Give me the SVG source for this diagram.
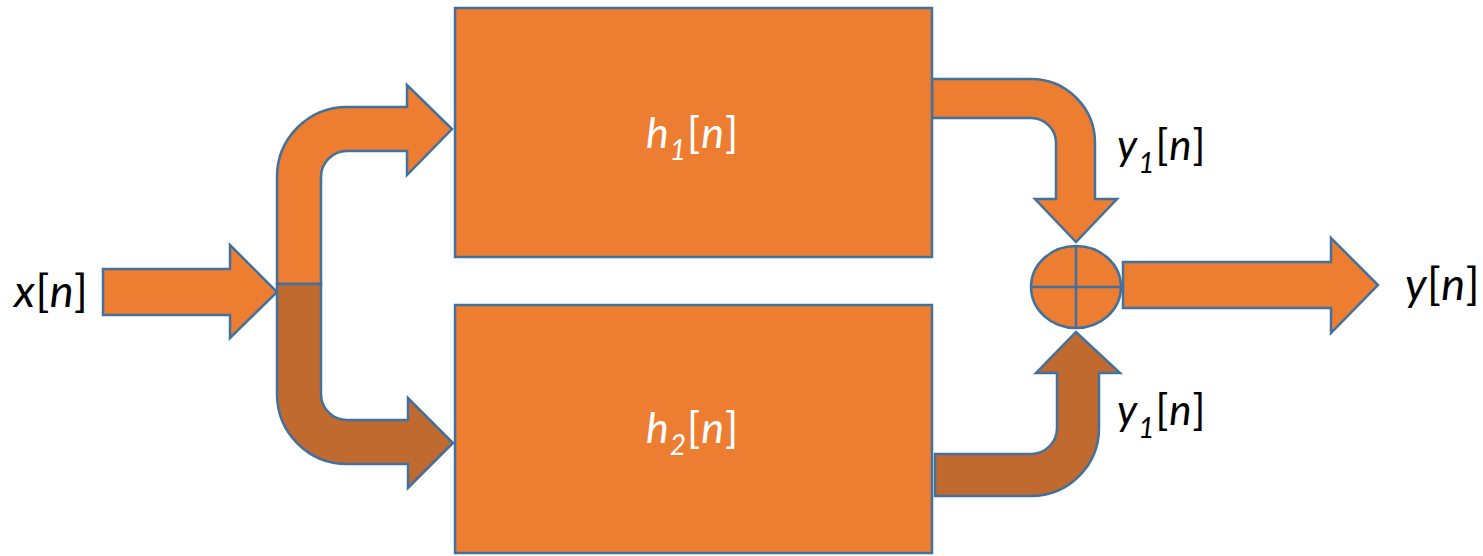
<svg xmlns="http://www.w3.org/2000/svg" width="1483" height="556" viewBox="0 0 1483 556">
<style>
.sh{fill:#ED7D31;stroke:#41719C;stroke-width:2.5;stroke-linejoin:miter}
.dk{fill:#C16A2F;stroke:#41719C;stroke-width:2.5;stroke-linejoin:miter}
.t{font-family:Lato,"Open Sans",sans-serif;fill:#000}
.w{fill:#fff}
.i{font-style:italic}
</style>
<rect width="1483" height="556" fill="#fff"/>
<g id="connectors">
<path id="in" class="sh" d="M103,269 L230,269 L230,245 L277,292 L230,338 L230,315 L103,315 Z"/>
<path id="split-up" class="sh" d="M277,284 L277,177 A70,70 0 0 1 347,107 L407,107 L407,85 L452,129 L407,175 L407,151 L347,151 A26,26 0 0 0 321,177 L321,284 Z"/>
<path id="split-down" class="dk" d="M277,284 L321,284 L321,394 A26,26 0 0 0 347,420 L408,420 L408,398 L453,443 L408,488 L408,464 L347,464 A70,70 0 0 1 277,394 Z"/>
<path id="h1-out" class="sh" d="M932,79 L1031,79 A64,64 0 0 1 1095,143 L1095,199 L1117,199 L1076,242 L1035,199 L1056,199 L1056,143 A25,25 0 0 0 1031,118 L932,118 Z"/>
<path id="h2-out" class="dk" d="M935,496 L1031,496 A68,68 0 0 0 1099,428 L1099,373 L1120,373 L1076,332 L1036,373 L1057,373 L1057,428 A26,26 0 0 1 1031,454 L935,454 Z"/>
<path id="out" class="sh" d="M1123,262 L1331,262 L1331,238 L1378,285 L1331,333 L1331,308 L1123,308 Z"/>
</g>
<g id="h1">
<rect class="sh" x="455" y="8" width="477" height="249"/>
<text class="t w" x="646" y="148" font-size="43" letter-spacing="1"><tspan class="i">h</tspan><tspan class="i" font-size="28" dy="12">1</tspan><tspan dy="-12">[</tspan><tspan class="i">n</tspan>]</text>
</g>
<g id="h2">
<rect class="sh" x="455" y="305" width="477" height="248"/>
<text class="t w" x="646" y="443" font-size="43" letter-spacing="1"><tspan class="i">h</tspan><tspan class="i" font-size="28" dy="12">2</tspan><tspan dy="-12">[</tspan><tspan class="i">n</tspan>]</text>
</g>
<g id="sum">
<ellipse class="sh" cx="1076" cy="287" rx="45" ry="41"/>
<line x1="1031" y1="287" x2="1121" y2="287" stroke="#41719C" stroke-width="2.5"/>
<line x1="1076" y1="246" x2="1076" y2="328" stroke="#41719C" stroke-width="2.5"/>
</g>
<g id="labels">
<text class="t" x="14" y="307" font-size="45" letter-spacing="0.5"><tspan class="i">x</tspan>[<tspan class="i">n</tspan>]</text>
<text class="t" x="1117" y="160" font-size="42" letter-spacing="1"><tspan class="i">y</tspan><tspan class="i" font-size="28" dy="13">1</tspan><tspan dy="-13">[</tspan><tspan class="i">n</tspan>]</text>
<text class="t" x="1117" y="425" font-size="42" letter-spacing="1"><tspan class="i">y</tspan><tspan class="i" font-size="28" dy="13">1</tspan><tspan dy="-13">[</tspan><tspan class="i">n</tspan>]</text>
<text class="t" x="1405" y="300" font-size="45" letter-spacing="0.5"><tspan class="i">y</tspan>[<tspan class="i">n</tspan>]</text>
</g>
</svg>
